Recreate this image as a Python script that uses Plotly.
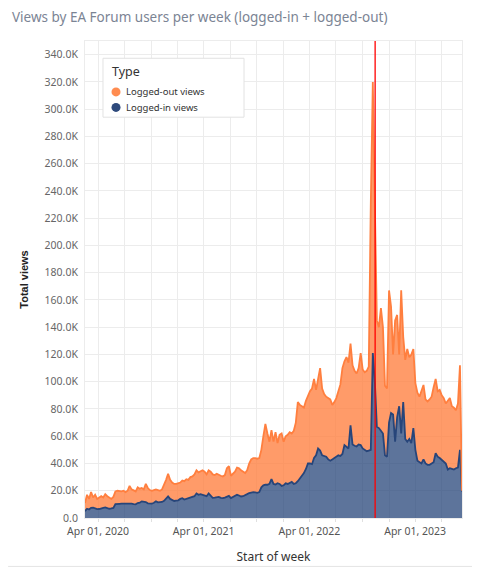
import pandas as pd
import plotly.graph_objects as go

# weekly EA Forum views (thousands); weeks start on Sundays
first_week = "2020-02-16"
total_views_k = [
    11, 17, 14, 19, 15, 17, 14, 15, 16, 15,
    17.5, 16, 15, 14, 15.5, 19.5, 20, 19.5, 19.5, 20,
    19, 20, 23.5, 21, 20, 19.5, 22.5, 21.5, 22, 21,
    25, 22, 20.5, 20, 20.5, 21, 20.5, 20, 21, 24,
    28, 32.5, 28, 26, 25, 25, 25.5,
    26, 27.5, 27, 28.5, 28, 30, 30.5, 32, 35, 33.5,
    34.5, 35, 34, 32, 35, 34, 32, 31.5, 32.5, 31.5,
    31, 30.5, 31.5, 36.5, 38, 31, 32.5, 34, 37, 36.5,
    35, 34, 33, 35, 40, 43, 44, 44, 43.5, 44,
    50, 60, 69, 62, 56, 64.5, 56, 63, 55, 61,
    62, 56, 60, 61, 63,
    62, 64, 70, 85, 83, 82, 81, 86, 90, 93,
    95, 102, 94, 101, 110, 95, 91, 89, 88, 87,
    83, 85, 88, 93, 98, 110, 115, 118, 114, 128,
    112, 108, 106, 110, 121, 109, 107, 108, 111,
    230, 320, 230, 145, 140, 154, 140, 97, 95, 167,
    155, 120, 145, 149, 120, 167, 133, 116, 124, 118,
    120, 124, 99, 92, 89, 93, 97.6, 87, 85.5, 87,
    89, 96, 102, 93, 94, 90, 88, 84, 86, 88,
    82, 81, 79, 84, 112, 20,
]
logged_in_k = [
    5, 6.8, 6.2, 7.5, 7.6, 6.8, 6.5, 6.6, 7.3, 7.5,
    7.8, 7.2, 6.8, 7.0, 7.4, 10.2, 10.5, 10.4, 10.5, 10.6,
    10.3, 10.5, 10.8, 10.5, 10.2, 10.0, 11.0, 11.2, 12.2, 12.0,
    11.7, 10.8, 10.4, 10.5, 11.2, 12.2, 11.5, 11.4, 11.8, 12.6,
    14.0, 15.8, 14.0, 13.2, 12.5, 12.8, 13.0,
    14, 14.5, 13.5, 14, 14.8, 15, 15.5, 16, 18, 17,
    17.5, 17, 16.5, 16, 18, 16, 14.8, 15, 15.5, 15.5,
    14.8, 14.6, 15, 15.8, 16.2, 14.6, 15.5, 16.2, 17, 16.5,
    15.8, 16, 16.5, 17.5, 18.3, 18.8, 19, 18.8, 18.5, 19,
    22.5, 24, 24.5, 24.4, 25, 28.5, 25, 24.5, 25.5, 25,
    23.5, 24, 25.5, 25, 26,
    26.5, 25, 25.5, 27, 29, 31, 33, 36, 40, 40,
    39.5, 44, 46, 51, 49.5, 46, 45.5, 45, 43, 42,
    43, 44, 44.6, 46, 45.5, 47, 53.5, 52, 51, 68,
    54, 53, 52.5, 54, 53.5, 51, 50, 49, 49.5,
    50, 121, 100, 67, 66, 64, 62, 46, 45, 70,
    77, 76, 56, 74, 82, 62, 85, 58, 56, 58,
    55, 66, 50, 42, 41, 40, 43, 40, 39, 39,
    40, 41, 47.5, 45, 44, 42.5, 41, 40, 35.5, 36.5,
    36, 35.5, 36.5, 37, 50, 19.5,
]
event_date = "2022-11-14"
series_names = ["Logged-out views", "Logged-in views"]
y_ticks = list(range(0, 340001, 20000))
y_tick_labels = ["0.0"] + [f"{v / 1000:.1f}K" for v in y_ticks[1:]]

weeks = pd.date_range(first_week, periods=len(total_views_k), freq="7D")
total = [v * 1000 for v in total_views_k]
logged_in = [v * 1000 for v in logged_in_k]

ORANGE = "#ff7f3f"
BLUE = "#27457a"
GRID = "#ececec"
SWATCH = ["#ff8c50", "#2e4a7c"]

fig = go.Figure()
fig.add_trace(go.Scatter(
    x=weeks, y=logged_in, mode="lines", fill="tozeroy", name=series_names[1],
    line=dict(color=BLUE, width=1.8), fillcolor="rgba(39,69,122,0.75)",
    showlegend=False, hoverinfo="skip",
))
fig.add_trace(go.Scatter(
    x=weeks, y=total, mode="lines", fill="tonexty", name=series_names[0],
    line=dict(color=ORANGE, width=1.8), fillcolor="rgba(255,127,63,0.78)",
    showlegend=False, hoverinfo="skip",
))

fig.add_shape(type="line", xref="x", yref="paper", x0=event_date, x1=event_date,
              y0=0, y1=1, line=dict(color="#ff0000", width=1.3))
# thin separator under the chart card
fig.add_shape(type="line", xref="paper", yref="paper", x0=-0.204, x1=1.0265,
              y0=-0.1015, y1=-0.1015, line=dict(color="#e4e4e4", width=1))

# hand-built legend box (plotly's own legend rows are too tall here)
fig.add_shape(type="rect", xref="paper", yref="paper", x0=0.0477, x1=0.4218,
              y0=0.8403, y1=0.9638, fillcolor="white", line=dict(color="#e2e2e2", width=1),
              layer="above")
fig.add_annotation(text="Type", xref="paper", yref="paper", x=0.067, y=0.9363,
                   xanchor="left", yanchor="middle", showarrow=False,
                   font=dict(size=12.5, color="#333333"))
for k, (label, colour) in enumerate(zip(series_names, SWATCH)):
    yc = 0.8932 - k * 0.0325
    fig.add_shape(type="circle", xref="paper", yref="paper", x0=0.0703, x1=0.0942,
                  y0=yc - 0.0094, y1=yc + 0.0094, fillcolor=colour,
                  line=dict(color=colour, width=0), layer="above")
    fig.add_annotation(text=label, xref="paper", yref="paper", x=0.1035, y=yc,
                       xanchor="left", yanchor="middle", showarrow=False,
                       font=dict(size=9.5, color="#333333"))

fig.update_layout(
    width=477, height=567,
    margin=dict(l=77, r=23, t=33, b=57),
    paper_bgcolor="white", plot_bgcolor="white",
    font=dict(family="Noto Sans", color="#555555"),
    title=dict(text="Views by EA Forum users per week (logged-in + logged-out)",
               x=0.0084, xref="container", xanchor="left",
               y=0.984, yref="container", yanchor="middle",
               font=dict(size=13.5, color="#7b8494")),
    showlegend=False,
)
fig.update_xaxes(
    range=[weeks[0], weeks[-1]],
    tick0="2020-04-01", dtick="M12", tickformat="%b %d, %Y",
    tickfont=dict(size=10.5, color="#555555"),
    showgrid=True, gridcolor=GRID, ticks="outside", ticklen=3, tickcolor="#e0e0e0",
    minor=dict(dtick="M3", showgrid=True, gridcolor=GRID, ticks="outside", ticklen=3,
               tickcolor="#e0e0e0"),
    showline=True, mirror=True, linecolor=GRID, zeroline=False,
    title=dict(text="Start of week", font=dict(size=12, color="#333333"), standoff=16),
)
fig.update_yaxes(
    range=[0, 350000], tickvals=y_ticks, ticktext=y_tick_labels,
    tickfont=dict(size=10.5, color="#666666"),
    showgrid=True, gridcolor=GRID, showline=True, mirror=True, linecolor=GRID,
    zeroline=False, ticks="outside", ticklen=4, tickcolor="white",
    title=dict(text="<b>Total views</b>", font=dict(family="Liberation Sans", size=11, color="#222222"),
               standoff=13),
)

fig.write_html("out.html")
